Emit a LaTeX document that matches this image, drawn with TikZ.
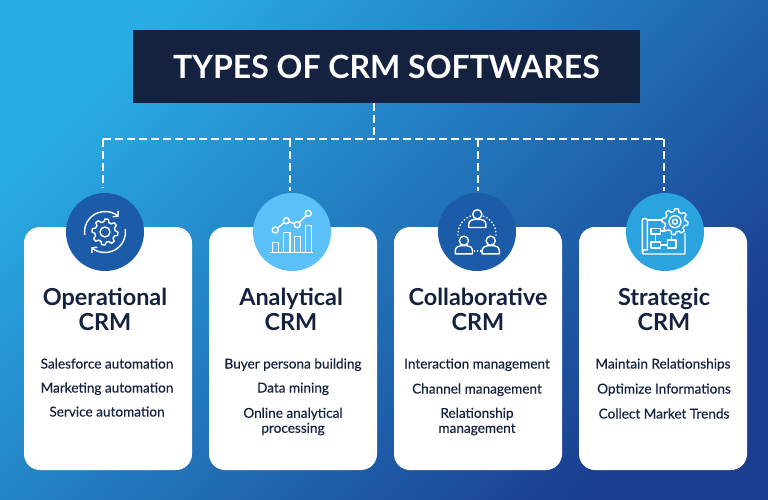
\documentclass[tikz,border=0pt]{standalone}
\usepackage{fontspec}
\setmainfont{Lato}
\newfontfamily\entryfont[FakeBold=0.25]{Lato}
\usetikzlibrary{arrows.meta}
\definecolor{navy}{HTML}{14213F}
\definecolor{bgtop}{HTML}{29ABE4}
\definecolor{bgmid}{HTML}{2180C4}
\definecolor{bgend}{HTML}{1A3D8F}
\definecolor{deepblue}{HTML}{1B5BA8}
\definecolor{skyblue}{HTML}{5BC0F8}
\definecolor{midblue}{HTML}{2BA3DF}
\newcommand{\cogwheel}[4]{% x, y, root radius, fill
  \draw[iconline,fill=#4] plot[samples=49,domain=0:360,variable=\t]
    ({#1+(#3+2.8*(sin(8*\t+20)>0))*cos(\t)},{#2+(#3+2.8*(sin(8*\t+20)>0))*sin(\t)});}
\newcommand{\personicon}[2]{% head centre
  \draw[iconline] (#1,#2) circle (4.6);
  \draw[iconline] (#1-8.6,#2+13.2) -- (#1-8.6,#2+10) .. controls (#1-8.6,#2+6.5) and (#1-5,#2+5) .. (#1-3,#2+5)
    -- (#1+3,#2+5) .. controls (#1+5,#2+5) and (#1+8.6,#2+6.5) .. (#1+8.6,#2+10) -- (#1+8.6,#2+13.2) -- cycle;}
\begin{document}
\begin{tikzpicture}[x=1pt,y=-1pt,
		every node/.style={inner sep=0pt,text=navy}]
	\tikzstyle{cardbox}=[fill=white,rounded corners=16pt];
	\tikzstyle{dashline}=[white,line width=2pt,dash pattern=on 8pt off 4pt];
	\tikzstyle{iconline}=[white,line width=1.4pt,line join=round];
	\tikzstyle{badge}=[circle,minimum size=78pt];
	\tikzstyle{heading}=[font=\fontsize{23.4}{25}\selectfont\bfseries,align=center];
	\tikzstyle{entry}=[font=\fontsize{13.6}{15}\selectfont\entryfont,align=center];
	\useasboundingbox (0,0) rectangle (768,500);
	\shade[top color=bgtop,middle color=bgmid,bottom color=bgend,shading angle=45] (0,0) rectangle (768,500);
	% title
	\node[fill=navy,minimum width=507pt,minimum height=73pt,text=white,
		font=\fontsize{32}{36}\selectfont\bfseries] (title) at (386.5,66.5) {TYPES OF CRM SOFTWARES};
	% cards
	\foreach \n/\cx in {1/108,2/293,3/478,4/663}
		\fill[cardbox] (\cx-84,227) rectangle (\cx+84,470);
	\node[badge,fill=deepblue] (icon1) at (105,232) {};
	\node[badge,fill=skyblue] (icon2) at (292,232) {};
	\node[badge,fill=deepblue] (icon3) at (477,232) {};
	\node[badge,fill=midblue] (icon4) at (665,232) {};
	% connectors
	\coordinate (hub) at (374,139);
	\coordinate (bar1) at (103,139);
	\coordinate (bar2) at (290,139);
	\coordinate (bar3) at (478,139);
	\coordinate (bar4) at (664,139);
	\coordinate (drop1) at (103,188);
	\coordinate (drop2) at (290,191);
	\coordinate (drop3) at (478,191);
	\coordinate (drop4) at (664,191);
	\draw[dashline] (title.south -| hub) -- (hub);
	\draw[dashline] (bar1) -- (bar4);
	\draw[dashline] (bar1) -- (drop1);
	\draw[dashline] (bar2) -- (drop2);
	\draw[dashline] (bar3) -- (drop3);
	\draw[dashline] (bar4) -- (drop4);
	% texts
	\node[heading] (head1) at (105,309.5) {Operational\\CRM};
	\node[heading] (head2) at (291,309.5) {Analytical\\CRM};
	\node[heading] (head3) at (478,309.5) {Collaborative\\CRM};
	\node[heading] (head4) at (664,309.5) {Strategic\\CRM};
	\node[entry,anchor=base] (item11) at (107,368.5) {Salesforce automation};
	\node[entry,anchor=base] (item12) at (107,392.5) {Marketing automation};
	\node[entry,anchor=base] (item13) at (107,416.5) {Service automation};
	\node[entry,anchor=base] (item21) at (293,368.5) {Buyer persona building};
	\node[entry,anchor=base] (item22) at (293,392.5) {Data mining};
	\node[entry] (item23) at (293,421.5) {Online analytical\\processing};
	\node[entry,anchor=base] (item31) at (477,368.5) {Interaction management};
	\node[entry,anchor=base] (item32) at (477,393.5) {Channel management};
	\node[entry] (item33) at (477,421.5) {Relationship\\management};
	\node[entry,anchor=base] (item41) at (663,368.5) {Maintain Relationships};
	\node[entry,anchor=base] (item42) at (664,393.5) {Optimize Informations};
	\node[entry,anchor=base] (item43) at (664,418.5) {Collect Market Trends};
	% icon 1
	\cogwheel{105}{232}{10.2}{deepblue}
	\draw[iconline] (105,232) circle (5);
	\draw[iconline,-{Straight Barb[length=3.5pt,width=8pt]}] (105,232) +(172:20.5) arc[start angle=172,end angle=312,radius=20.5];
	\draw[iconline,-{Straight Barb[length=3.5pt,width=8pt]}] (105,232) +(-8:20.5) arc[start angle=-8,end angle=132,radius=20.5];
	% icon 2
	\draw[iconline] (270,252.7) -- (313,252.7);
	\foreach \bl/\br/\bt in {272.7/278.7/242.3,283.3/290/232.7,294.3/300.3/236.7,305.7/311.7/225.3}
		\draw[iconline] (\bl,252.7) -- (\bl,\bt) -- (\br,\bt) -- (\br,252.7);
	\draw[iconline] (275.3,230) -- (286.3,220.7) -- (297.3,224.7) -- (308.3,213.3);
	\foreach \px/\py in {275.3/230,286.3/220.7,297.3/224.7,308.3/213.3}
		\draw[iconline,fill=skyblue] (\px,\py) circle (3);
	% icon 3
	\personicon{477.3}{214.3}
	\personicon{463.9}{240.7}
	\personicon{490.7}{240.7}
	\draw[iconline,dotted,line width=1.3pt] (477,234) +(175:19) arc[start angle=175,end angle=252,radius=19];
	\draw[iconline,dotted,line width=1.3pt] (477,234) +(5:19) arc[start angle=5,end angle=-72,radius=19];
	\draw[iconline,dotted,line width=1.3pt] (473.5,251) -- (481.5,251);
	% icon 4
	\draw[iconline] (647.3,220) -- (664,220);
	\draw[iconline] (685,233) -- (685,254) -- (644,254) .. controls (642.3,254) .. (642.3,251) -- (642.3,220)
		.. controls (642.3,218) and (647.3,218) .. (647.3,220) -- (647.3,250) .. controls (645,249) and (642.3,250) .. (642.3,252);
	\draw[iconline] (651,228.3) rectangle (660.7,234);
	\draw[iconline] (651,242) rectangle (660.7,248);
	\draw[iconline] (667.3,240) rectangle (676,248);
	\draw[iconline] (655.7,234) -- (655.7,242);
	\draw[iconline] (660.7,245) -- (667.3,245);
	\draw[iconline] (660.7,231) -- (665,231);
	\draw[iconline] (671.7,236) -- (671.7,240);
	\cogwheel{675}{221.7}{10.2}{midblue}
	\draw[iconline] (675,221.7) circle (6);
	\draw[iconline] (675,221.7) circle (2.5);
\end{tikzpicture}
\end{document}
